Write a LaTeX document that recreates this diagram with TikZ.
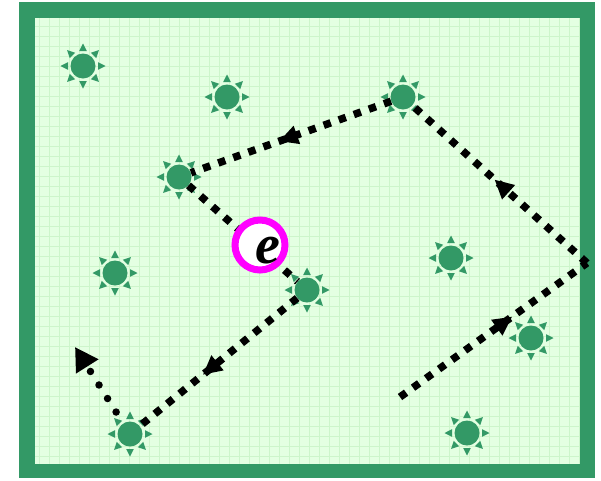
\documentclass[tikz,border=0pt]{standalone}
\usepackage{fontspec}
\newfontfamily\efont{Liberation Serif}
\usetikzlibrary{arrows.meta,decorations.markings,calc}
\definecolor{frameg}{HTML}{339966}
\definecolor{bgg}{HTML}{E4FFE2}
\definecolor{gridg}{HTML}{CDF5CB}
\definecolor{ringc}{HTML}{FF00FF}
\tikzset{
 sunnode/.style={circle, fill=frameg, minimum size=25pt, inner sep=0pt},
 walk/.style={draw=black, line width=7.5pt, dash pattern=on 7.5pt off 8.5pt},
 dotwalk/.style={draw=black, line width=7.5pt, line cap=round, dash pattern=on 0pt off 16pt},
 midarrow/.style={postaction={decorate}, decoration={markings, mark=at position #1 with {\arrow{Triangle[length=19pt,width=18pt]}}}},
}
\newcommand\mysun[3]{%
  \node[sunnode] (#1) at (#2,#3) {};
  \foreach \a in {0,45,...,315}{\fill[frameg, shift={(#1.center)}, rotate=\a] (15,3.8) -- (22.5,0) -- (15,-3.8) -- cycle;}%
}
\begin{document}
\begin{tikzpicture}[x=1pt,y=-1pt]
\useasboundingbox (0,0) rectangle (601,480);
\fill[white] (0,0) rectangle (601,480);
\fill[frameg] (19,2) rectangle (595,478);
\fill[bgg] (35,18) rectangle (579,464);
\foreach \gx in {39,49,...,579} \draw[gridg, line width=0.9pt] (\gx,18) -- (\gx,464);
\foreach \gy in {26,36,...,464} \draw[gridg, line width=0.9pt] (35,\gy) -- (579,\gy);
\mysun{s1}{83}{66}
\mysun{s2}{227}{97}
\mysun{s3}{403}{97}
\mysun{s4}{179}{177}
\mysun{s5}{115}{273}
\mysun{s6}{451}{258}
\mysun{s7}{307}{290}
\mysun{s8}{531}{338}
\mysun{s9}{130}{434}
\mysun{s10}{467}{433}
\coordinate (start) at (400,397);
\coordinate (corner) at (587,263);
\coordinate (finish) at (75,347);
\draw[walk, midarrow=0.6] (start) -- (corner);
\draw[walk, midarrow=0.53] (corner) -- (s3);
\draw[walk, midarrow=0.56] (s3) -- (s4);
\draw[walk] (s4) -- (s7);
\draw[walk, midarrow=0.6] (s7) -- (s9);
\draw[dotwalk, shorten <=13.3pt, -{Triangle[length=23pt,width=25pt]}] (s9) -- (finish);
\node[circle, draw=ringc, line width=7pt, fill=white, minimum size=50pt, inner sep=0pt] (ering) at (260,245) {};
\node[inner sep=0pt, font=\efont\bfseries\itshape\fontsize{56}{56}\selectfont] (elabel) at (268,251) {e};
\end{tikzpicture}
\end{document}
